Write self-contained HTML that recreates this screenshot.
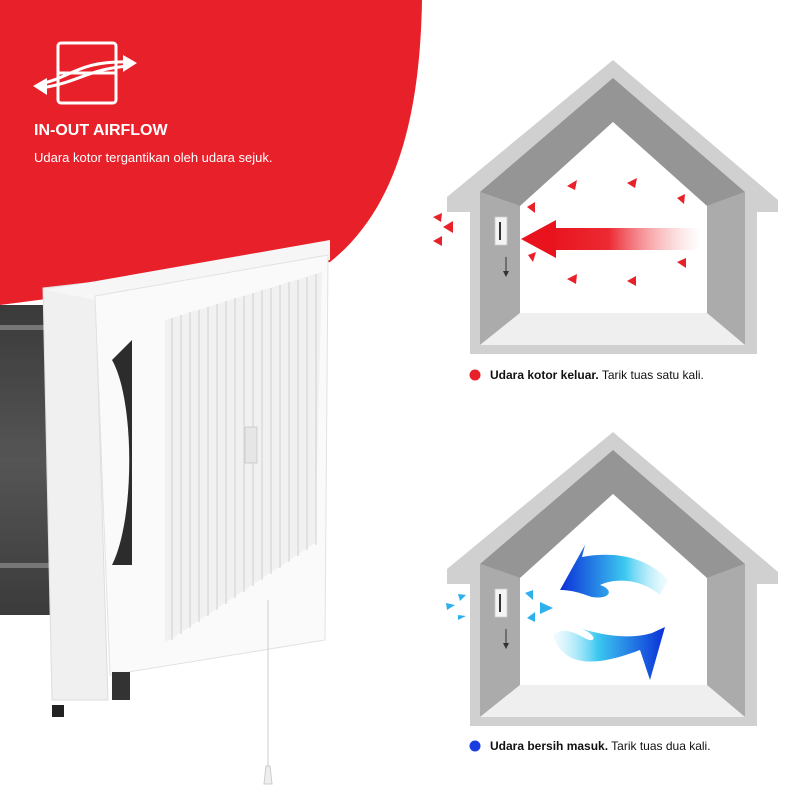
<!DOCTYPE html>
<html><head><meta charset="utf-8"><style>
html,body{margin:0;padding:0;background:#fff}
svg{display:block}
text{font-family:"Liberation Sans",sans-serif}
</style></head><body>
<svg width="800" height="800" viewBox="0 0 800 800" xmlns="http://www.w3.org/2000/svg">
<defs>
<linearGradient id="rg" x1="0" x2="1"><stop offset="0" stop-color="#e8131c"/><stop offset="0.4" stop-color="#ec2a33"/><stop offset="1" stop-color="#f7a0a4" stop-opacity="0"/></linearGradient>
<linearGradient id="bg1" x1="0" x2="1"><stop offset="0" stop-color="#0b2fd8"/><stop offset="0.6" stop-color="#3cc8f0"/><stop offset="1" stop-color="#bff0fb" stop-opacity="0.2"/></linearGradient>
<linearGradient id="bg2" x1="1" x2="0"><stop offset="0" stop-color="#0b2fd8"/><stop offset="0.6" stop-color="#3cc8f0"/><stop offset="1" stop-color="#bff0fb" stop-opacity="0.2"/></linearGradient>
<linearGradient id="dk" x1="0" x2="0" y1="0" y2="1"><stop offset="0" stop-color="#3a3a3a"/><stop offset="0.5" stop-color="#555"/><stop offset="1" stop-color="#3b3b3b"/></linearGradient>
<g id="house">
<polygon points="447,197 613,60 778,200 778,212 757,212 757,354 470,354 470,212 447,212" fill="#d0d0d0"/>
<polygon points="480,192 613,78 745,192 707,206 613,122 520,206" fill="#959595"/>
<polygon points="480,192 520,206 520,313 480,345" fill="#ababab"/>
<polygon points="745,192 745,345 707,313 707,206" fill="#ababab"/>
<polygon points="480,345 520,313 707,313 745,345" fill="#efefef"/>
<polygon points="520,206 613,122 707,206 707,313 520,313" fill="#fff"/>
<rect x="495" y="217" width="12" height="28" fill="#f4f4f4" stroke="#ccc" stroke-width="0.8"/>
<rect x="499" y="222" width="2" height="18" fill="#333"/>
<line x1="506" y1="257" x2="506" y2="275" stroke="#333" stroke-width="1"/>
<polygon points="503,271 506,277 509,271" fill="#333"/>
</g>
</defs>
<path d="M0,0 H422 C420,120 395,210 330,262 L0,305 Z" fill="#e8202a"/>
<!-- icon -->
<g fill="none" stroke="#fff" stroke-width="3">
<rect x="58" y="43" width="58" height="60" rx="3"/>
<line x1="58" y1="73" x2="116" y2="73"/>
<path d="M40,84 C70,78 80,60 130,62"/>
<path d="M40,88 C75,84 90,68 130,66"/>
</g>
<polygon points="33,86 47,78 47,95" fill="#fff"/>
<polygon points="137,63 123,55 123,72" fill="#fff"/>
<text x="34" y="135" fill="#fff" font-size="16" font-weight="bold">IN-OUT AIRFLOW</text>
<text x="34" y="162" fill="#fff" font-size="13">Udara kotor tergantikan oleh udara sejuk.</text>
<!-- fan -->
<rect x="0" y="305" width="52" height="310" fill="url(#dk)"/>
<rect x="0" y="325" width="50" height="5" fill="#777"/>
<rect x="0" y="563" width="50" height="5" fill="#777"/>
<polygon points="43,288 95,282 108,700 52,700" fill="#f0f0f0" stroke="#ddd"/>
<polygon points="45,290 330,240 330,260 95,300" fill="#f6f6f6"/>
<polygon points="95,296 328,255 325,640 110,675" fill="#fafafa" stroke="#e2e2e2"/>
<polygon points="165,320 322,272 315,543 165,643" fill="#f1f1f1"/>
<g stroke="#d6d6d6" stroke-width="1.2">
<line x1="172" y1="318" x2="172" y2="640"/><line x1="181" y1="315" x2="181" y2="634"/><line x1="190" y1="312" x2="190" y2="628"/><line x1="199" y1="310" x2="199" y2="622"/><line x1="208" y1="307" x2="208" y2="616"/><line x1="217" y1="304" x2="217" y2="610"/><line x1="226" y1="301" x2="226" y2="604"/><line x1="235" y1="298" x2="235" y2="598"/><line x1="244" y1="296" x2="244" y2="592"/><line x1="253" y1="293" x2="253" y2="586"/><line x1="262" y1="290" x2="262" y2="580"/><line x1="271" y1="288" x2="271" y2="574"/><line x1="280" y1="285" x2="280" y2="568"/><line x1="289" y1="282" x2="289" y2="562"/><line x1="298" y1="280" x2="298" y2="556"/><line x1="307" y1="277" x2="307" y2="550"/><line x1="316" y1="274" x2="316" y2="545"/>
</g>
<rect x="245" y="427" width="12" height="36" fill="#e6e6e6" stroke="#bbb" stroke-width="0.6"/>
<path d="M112,360 C135,400 135,520 112,565 L132,565 L132,340 Z" fill="#2c2c2c"/>
<rect x="52" y="705" width="12" height="12" fill="#222"/>
<rect x="112" y="672" width="18" height="28" fill="#333"/>
<line x1="268" y1="600" x2="268" y2="768" stroke="#ccc" stroke-width="1"/>
<path d="M264,784 L266,766 L270,766 L272,784 Z" fill="#eee" stroke="#ccc"/>
<!-- house 1 -->
<use href="#house"/>
<rect x="548" y="228" width="152" height="22" fill="url(#rg)"/>
<polygon points="521,239 556,220 556,258" fill="#e8131c"/>
<g fill="#e8202a">
<polygon points="567,186 577,180 575,190"/><polygon points="627,183 637,178 635,188"/><polygon points="677,198 685,194 684,204"/>
<polygon points="527,207 535,202 535,213"/><polygon points="528,255 536,252 533,262"/>
<polygon points="567,279 577,274 576,284"/><polygon points="627,281 636,276 636,286"/><polygon points="677,262 686,258 686,268"/>
<polygon points="433,217 442,213 441,222"/><polygon points="443,227 453,221 453,233"/><polygon points="433,241 442,236 442,246"/>
</g>
<circle cx="475" cy="375" r="5.5" fill="#e8202a"/>
<text x="490" y="379" font-size="12" fill="#111"><tspan font-weight="bold">Udara kotor keluar.</tspan> Tarik tuas satu kali.</text>
<!-- house 2 -->
<use href="#house" transform="translate(0,372)"/>
<path d="M560,590 L585,545 L582,557 C620,550 650,560 668,580 L660,595 C640,578 615,578 600,585 C615,590 610,600 592,597 C585,595 575,590 560,590 Z" fill="url(#bg1)"/>
<path d="M650,680 L665,627 L652,633 C630,640 600,635 580,628 C600,636 595,645 583,637 C570,630 560,628 553,636 C565,670 600,665 640,650 Z" fill="url(#bg2)"/>
<g fill="#2fb0ee">
<polygon points="525,593 533,590 533,600"/><polygon points="540,602 553,608 540,614"/><polygon points="527,618 535,612 535,622"/>
<polygon points="458,594 466,595 460,601"/><polygon points="446,603 455,605 447,610"/><polygon points="458,615 466,616 458,620"/>
</g>
<circle cx="475" cy="746" r="5.5" fill="#1a3de0"/>
<text x="490" y="750" font-size="12" fill="#111"><tspan font-weight="bold">Udara bersih masuk.</tspan> Tarik tuas dua kali.</text>
</svg>
</body></html>
